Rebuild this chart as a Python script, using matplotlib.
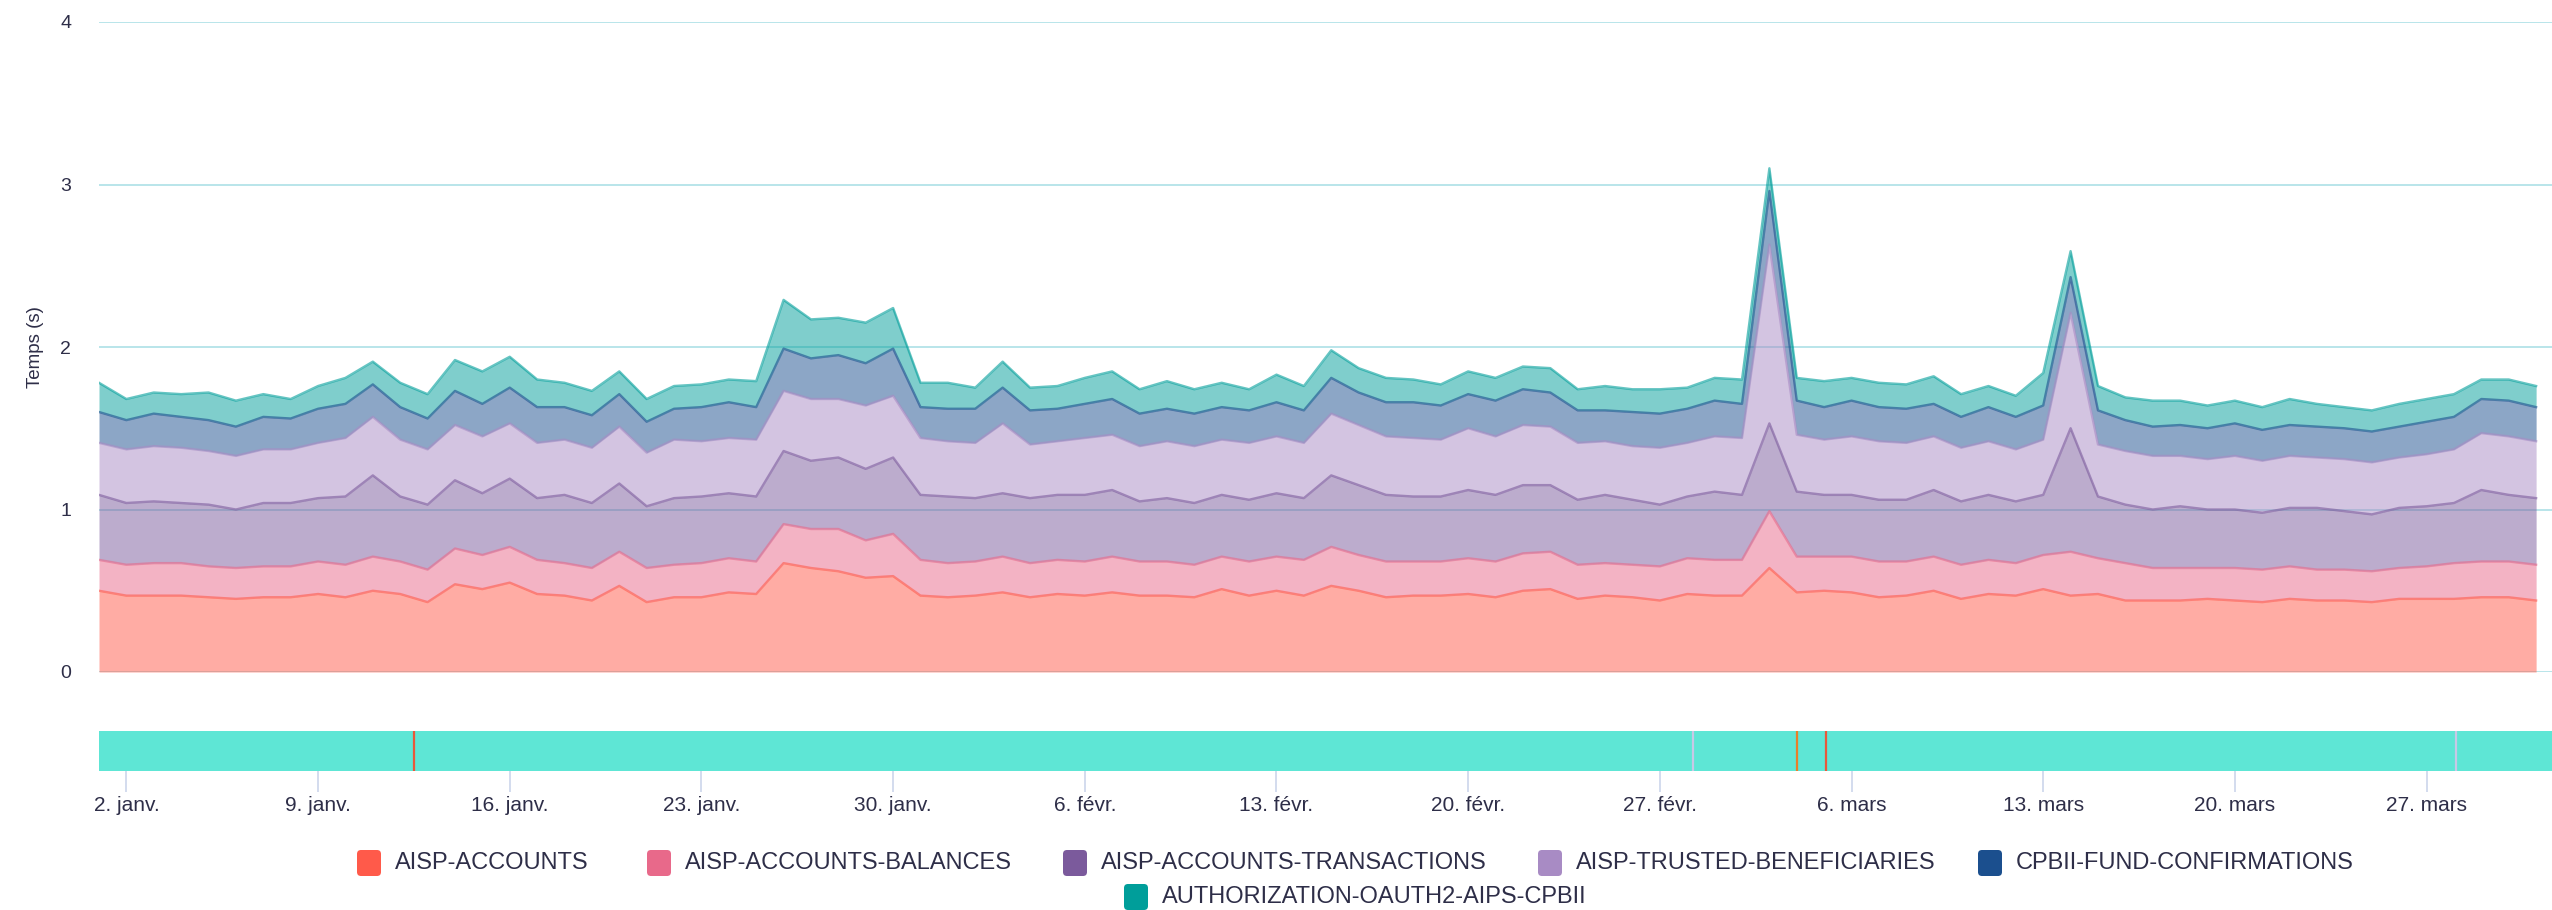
import numpy as np
import pandas as pd
import matplotlib
matplotlib.use('Agg')
import matplotlib.pyplot as plt
import matplotlib.dates as mdates
from matplotlib.patches import FancyBboxPatch

plt.rcParams['font.family'] = ['Liberation Sans Narrow', 'Liberation Sans', 'DejaVu Sans']

# daily response times (s), 1 Jan -> 31 Mar
dates = pd.date_range('2023-01-01', periods=90, freq='D')

accounts = [
    0.50, 0.47, 0.47, 0.47, 0.46, 0.45, 0.46, 0.46, 0.48, 0.46, 0.50, 0.48, 0.43, 0.54, 0.51, 0.55,
    0.48, 0.47, 0.44, 0.53, 0.43, 0.46, 0.46, 0.49, 0.48, 0.67, 0.64, 0.62, 0.58, 0.59, 0.47,
    0.46, 0.47, 0.49, 0.46, 0.48, 0.47, 0.49, 0.47, 0.47, 0.46, 0.51, 0.47, 0.50, 0.47, 0.53,
    0.50, 0.46, 0.47, 0.47, 0.48, 0.46, 0.50, 0.51, 0.45, 0.47, 0.46, 0.44, 0.48, 0.47, 0.47,
    0.64, 0.49, 0.50, 0.49, 0.46, 0.47, 0.50, 0.45, 0.48, 0.47, 0.51, 0.47, 0.48, 0.44, 0.44,
    0.44, 0.45, 0.44, 0.43, 0.45, 0.44, 0.44, 0.43, 0.45, 0.45, 0.45, 0.46, 0.46, 0.44]
balances = [
    0.19, 0.19, 0.20, 0.20, 0.19, 0.19, 0.19, 0.19, 0.20, 0.20, 0.21, 0.20, 0.20, 0.22, 0.21, 0.22,
    0.21, 0.20, 0.20, 0.21, 0.21, 0.20, 0.21, 0.21, 0.20, 0.24, 0.24, 0.26, 0.23, 0.26, 0.22,
    0.21, 0.21, 0.22, 0.21, 0.21, 0.21, 0.22, 0.21, 0.21, 0.20, 0.20, 0.21, 0.21, 0.22, 0.24,
    0.22, 0.22, 0.21, 0.21, 0.22, 0.22, 0.23, 0.23, 0.21, 0.20, 0.20, 0.21, 0.22, 0.22, 0.22,
    0.35, 0.22, 0.21, 0.22, 0.22, 0.21, 0.21, 0.21, 0.21, 0.20, 0.21, 0.27, 0.22, 0.23, 0.20,
    0.20, 0.19, 0.20, 0.20, 0.20, 0.19, 0.19, 0.19, 0.19, 0.20, 0.22, 0.22, 0.22, 0.22]
transactions = [
    0.40, 0.38, 0.38, 0.37, 0.38, 0.36, 0.39, 0.39, 0.39, 0.42, 0.50, 0.40, 0.40, 0.42, 0.38, 0.42,
    0.38, 0.42, 0.40, 0.42, 0.38, 0.41, 0.41, 0.40, 0.40, 0.45, 0.42, 0.44, 0.44, 0.47, 0.40,
    0.41, 0.39, 0.39, 0.40, 0.40, 0.41, 0.41, 0.37, 0.39, 0.38, 0.38, 0.38, 0.39, 0.38, 0.44,
    0.43, 0.41, 0.40, 0.40, 0.42, 0.41, 0.42, 0.41, 0.40, 0.42, 0.40, 0.38, 0.38, 0.42, 0.40,
    0.54, 0.40, 0.38, 0.38, 0.38, 0.38, 0.41, 0.39, 0.40, 0.38, 0.37, 0.76, 0.38, 0.36, 0.36,
    0.38, 0.36, 0.36, 0.35, 0.36, 0.38, 0.36, 0.35, 0.37, 0.37, 0.37, 0.44, 0.41, 0.41]
trusted = [
    0.32, 0.33, 0.34, 0.34, 0.33, 0.33, 0.33, 0.33, 0.34, 0.36, 0.36, 0.35, 0.34, 0.34, 0.35, 0.34,
    0.34, 0.34, 0.34, 0.35, 0.33, 0.36, 0.34, 0.34, 0.35, 0.37, 0.38, 0.36, 0.39, 0.38, 0.35,
    0.34, 0.34, 0.43, 0.33, 0.33, 0.35, 0.34, 0.34, 0.35, 0.35, 0.34, 0.35, 0.35, 0.34, 0.38,
    0.37, 0.36, 0.36, 0.35, 0.38, 0.36, 0.37, 0.36, 0.35, 0.33, 0.33, 0.35, 0.33, 0.34, 0.35,
    1.10, 0.35, 0.34, 0.36, 0.36, 0.35, 0.33, 0.33, 0.33, 0.32, 0.34, 0.71, 0.32, 0.33, 0.33,
    0.31, 0.31, 0.33, 0.32, 0.32, 0.31, 0.32, 0.32, 0.31, 0.32, 0.33, 0.35, 0.36, 0.35]
fund_conf = [
    0.19, 0.18, 0.20, 0.19, 0.19, 0.18, 0.20, 0.19, 0.21, 0.21, 0.20, 0.20, 0.19, 0.21, 0.20, 0.22,
    0.22, 0.20, 0.20, 0.20, 0.19, 0.19, 0.21, 0.22, 0.20, 0.26, 0.25, 0.27, 0.26, 0.29, 0.19,
    0.20, 0.21, 0.22, 0.21, 0.20, 0.21, 0.22, 0.20, 0.20, 0.20, 0.20, 0.20, 0.21, 0.20, 0.22,
    0.20, 0.21, 0.22, 0.21, 0.21, 0.22, 0.22, 0.21, 0.20, 0.19, 0.21, 0.21, 0.21, 0.22, 0.21,
    0.33, 0.21, 0.20, 0.22, 0.21, 0.21, 0.20, 0.19, 0.21, 0.20, 0.21, 0.22, 0.21, 0.19, 0.18,
    0.19, 0.19, 0.20, 0.19, 0.19, 0.19, 0.19, 0.19, 0.19, 0.20, 0.20, 0.21, 0.22, 0.21]
oauth = [
    0.18, 0.13, 0.13, 0.14, 0.17, 0.16, 0.14, 0.12, 0.14, 0.16, 0.14, 0.15, 0.15, 0.19, 0.20, 0.19,
    0.17, 0.15, 0.15, 0.14, 0.14, 0.14, 0.14, 0.14, 0.16, 0.30, 0.24, 0.23, 0.25, 0.25, 0.15,
    0.16, 0.13, 0.16, 0.14, 0.14, 0.16, 0.17, 0.15, 0.17, 0.15, 0.15, 0.13, 0.17, 0.15, 0.17,
    0.15, 0.15, 0.14, 0.13, 0.14, 0.14, 0.14, 0.15, 0.13, 0.15, 0.14, 0.15, 0.13, 0.14, 0.15,
    0.14, 0.14, 0.16, 0.14, 0.15, 0.15, 0.17, 0.14, 0.13, 0.13, 0.20, 0.16, 0.15, 0.14, 0.16,
    0.15, 0.14, 0.14, 0.14, 0.16, 0.14, 0.13, 0.13, 0.14, 0.14, 0.14, 0.12, 0.13, 0.13]

series_names = ['AISP-ACCOUNTS', 'AISP-ACCOUNTS-BALANCES', 'AISP-ACCOUNTS-TRANSACTIONS',
                'AISP-TRUSTED-BENEFICIARIES', 'CPBII-FUND-CONFIRMATIONS',
                'AUTHORIZATION-OAUTH2-AIPS-CPBII']
series_values = [accounts, balances, transactions, trusted, fund_conf, oauth]
colors = ['#ff5a4a', '#e8698a', '#7b5a9c', '#a88bc4', '#1b4f8e', '#009e9a']

# availability bar: incidents (time, colour)
incident_times = pd.to_datetime(['2023-01-12 12:00', '2023-02-28 05:00', '2023-03-04 00:00',
                                 '2023-03-05 02:00', '2023-03-28 02:00'])
incident_colors = ['#e8583a', '#c8c8e6', '#e8802a', '#e8583a', '#c8c8e6']

mois = {1: 'janv.', 2: 'févr.', 3: 'mars'}
tick_dates = pd.date_range('2023-01-02', '2023-03-27', freq='7D')

W, H = 2552, 910
fig = plt.figure(figsize=(W / 100, H / 100), dpi=100)

x0 = mdates.date2num(pd.Timestamp('2023-01-01'))
xlim = (x0, x0 + 89.58)

# main stacked area
ax = fig.add_axes([99 / W, 1 - 672 / H, 1 - 99 / W, 650 / H])
xs = mdates.date2num(dates)
base = np.zeros(len(dates))
for vals, c in zip(series_values, colors):
    top = base + np.array(vals)
    ax.fill_between(xs, base, top, color=c, alpha=0.5, lw=0, zorder=2)
    ax.plot(xs, top, color=c, lw=1.7, alpha=0.6, zorder=3)
    base = top

ax.set_xlim(xlim)
ax.set_ylim(0, 4)
ax.set_yticks([0, 1, 2, 3, 4])
ax.yaxis.grid(True, color='#b3e3e8', lw=1.3, zorder=0)
ax.set_axisbelow(True)
ax.set_xticks([])
for s in ax.spines.values():
    s.set_visible(False)
ax.tick_params(axis='y', length=0, pad=20, labelsize=14, labelcolor='#2e2e48')
fig.text(36 / W, 1 - 347 / H, 'Temps (s)', rotation=90, ha='center', va='center',
         fontsize=13.5, color='#2e2e48')

# status bar
axs = fig.add_axes([99 / W, 1 - 771 / H, 1 - 99 / W, 40 / H])
axs.axvspan(xlim[0], xlim[1], color='#5ee6d5', lw=0)
for t, c in zip(incident_times, incident_colors):
    axs.axvline(mdates.date2num(t), color=c, lw=1.6)
axs.set_xlim(xlim)
axs.set_ylim(0, 1)
axs.set_yticks([])
for s in axs.spines.values():
    s.set_visible(False)
axs.set_xticks(mdates.date2num(tick_dates))
axs.set_xticklabels([f'{d.day}. {mois[d.month]}' for d in tick_dates])
axs.tick_params(axis='x', length=15, width=1.2, color='#ccd6eb', pad=3,
                labelsize=15, labelcolor='#2e2e48')

# legend
leg = fig.add_axes([0, 0, 1, 1])
leg.set_xlim(0, W)
leg.set_ylim(H, 0)
leg.axis('off')
leg_x = [369, 659, 1075, 1550, 1990, 1136]
leg_y = [863, 863, 863, 863, 863, 897]
for name, c, lx, ly in zip(series_names, colors, leg_x, leg_y):
    leg.add_patch(FancyBboxPatch((lx - 12, ly - 13), 24, 26,
                                 boxstyle='round,pad=0,rounding_size=4', color=c, lw=0))
    leg.text(lx + 26, ly, name, ha='left', va='center', fontsize=17, color='#2e2e48')

fig.savefig('out.png', dpi=100)
